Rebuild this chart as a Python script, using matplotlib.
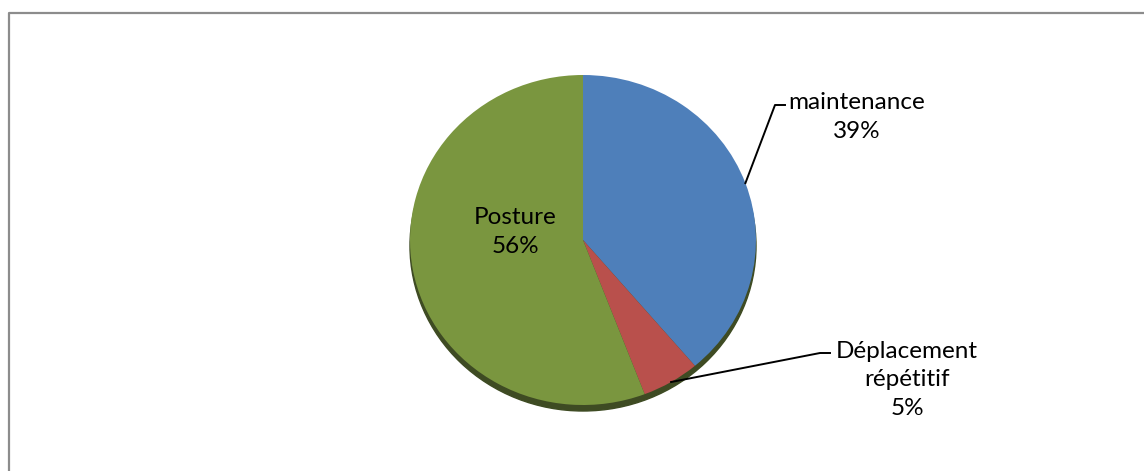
import numpy as np
import matplotlib.pyplot as plt
from matplotlib.patches import Ellipse

# donnees
categories = ['maintenance', 'Déplacement\nrépétitif', 'Posture']
valeurs = [38.8, 5.4, 55.8]
couleurs = ['#4e7fba', '#b9504c', '#7a963f']

W, H = 1144, 471
plt.rcParams['font.family'] = ['Lato', 'DejaVu Sans']

fig = plt.figure(figsize=(W / 100, H / 100), dpi=100)
ax = fig.add_axes([0, 0, 1, 1])
ax.set_xlim(0, W)
ax.set_ylim(0, H)
ax.axis('off')
ax.set_zorder(3)

# camembert legerement aplati (vue 3D d'Excel)
cx, cy, rx, ry = 583, H - 240, 173, 165
axp = fig.add_axes([(cx - rx) / W, (cy - ry) / H, 2 * rx / W, 2 * ry / H])
axp.add_patch(Ellipse((0, -6 / ry), 2, 2, color='#3e4b23', zorder=1, clip_on=False))
wedges, _ = axp.pie(valeurs, colors=couleurs, startangle=90, counterclock=False,
                    radius=1, wedgeprops=dict(linewidth=0, zorder=2))
axp.set_aspect('auto')
axp.set_xlim(-1, 1)
axp.set_ylim(-1, 1)
axp.axis('off')

# cadre gris
ax.plot([9, 9, W], [0, H - 13, H - 13], color='#8c8c8c', lw=1.6, solid_capstyle='butt')

pct = [f'{v:.0f}%' for v in valeurs]
fs = 17.5
ls = 1.45

# etiquette Posture dans la part
ax.text(515, H - 232, f'{categories[2]}\n{pct[2]}', ha='center', va='center',
        fontsize=fs, linespacing=ls, zorder=5)

# etiquettes exterieures avec traits de rappel
def rappel(w, coude, fin):
    a = np.deg2rad((w.theta1 + w.theta2) / 2)
    x0, y0 = cx + rx * np.cos(a), cy + ry * np.sin(a)
    ax.plot([x0, coude[0], fin[0]], [y0, coude[1], fin[1]], color='black', lw=1.4, zorder=4)

rappel(wedges[0], (775, H - 105), (785, H - 105))
ax.text(857, H - 117, f'{categories[0]}\n{pct[0]}', ha='center', va='center',
        fontsize=fs, linespacing=ls)

rappel(wedges[1], (820, H - 353), (830, H - 353))
ax.text(907, H - 380, f'{categories[1]}\n{pct[1]}', ha='center', va='center',
        fontsize=fs, linespacing=ls)

fig.savefig('out.png', dpi=100, facecolor='white')
